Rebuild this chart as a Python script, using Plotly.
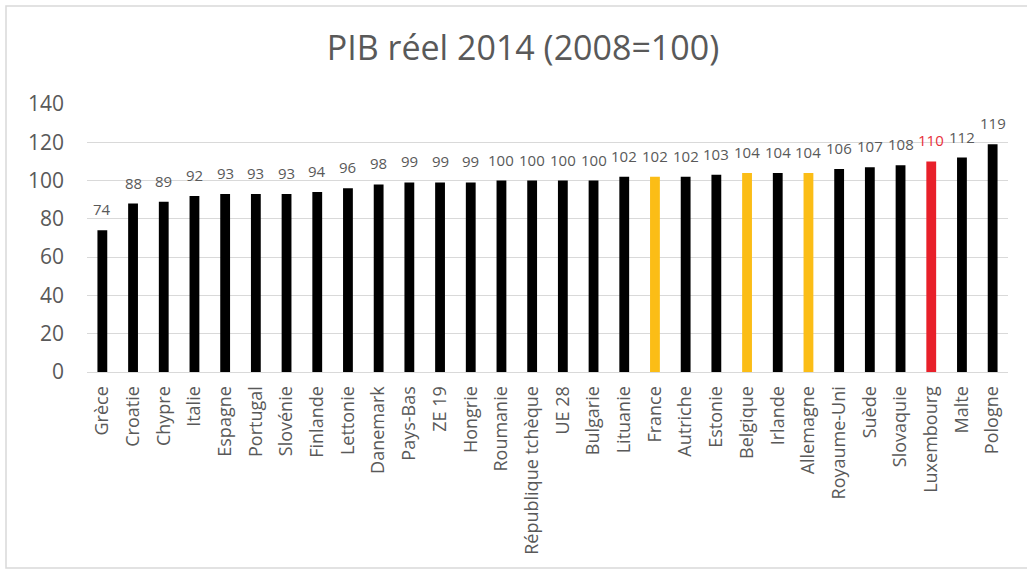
import plotly.graph_objects as go

countries = ["Grèce", "Croatie", "Chypre", "Italie", "Espagne", "Portugal", "Slovénie",
             "Finlande", "Lettonie", "Danemark", "Pays-Bas", "ZE 19", "Hongrie", "Roumanie",
             "République tchèque", "UE 28", "Bulgarie", "Lituanie", "France", "Autriche",
             "Estonie", "Belgique", "Irlande", "Allemagne", "Royaume-Uni", "Suède",
             "Slovaquie", "Luxembourg", "Malte", "Pologne"]
values = [74, 88, 89, 92, 93, 93, 93, 94, 96, 98, 99, 99, 99, 100, 100, 100, 100, 102,
          102, 102, 103, 104, 104, 104, 106, 107, 108, 110, 112, 119]
yellow_set = ["France", "Belgique", "Allemagne"]
red_set = ["Luxembourg"]
yticks = [0, 20, 40, 60, 80, 100, 120, 140]

bar_colors = []
label_colors = []
for c in countries:
    if c in red_set:
        bar_colors.append("#E8202A")
        label_colors.append("#E8303A")
    elif c in yellow_set:
        bar_colors.append("#FBBD16")
        label_colors.append("#595959")
    else:
        bar_colors.append("#000000")
        label_colors.append("#595959")

W, H = 1027, 569
ml, mr, mt, mb = 87, 19, 104, 197
pw, ph = W - ml - mr, H - mt - mb

fig = go.Figure(go.Bar(
    x=countries, y=values, marker_color=bar_colors, marker_line_width=0,
    width=0.32,
))

annotations = []
for c, v, col in zip(countries, values, label_colors):
    annotations.append(dict(x=c, y=v, xref="x", yref="y", text=str(v), showarrow=False,
                            yanchor="bottom", yshift=9,
                            font=dict(family="Open Sans", size=15, color=col)))

fig.update_layout(
    width=W, height=H,
    margin=dict(l=ml, r=mr, t=mt, b=mb, pad=0),
    paper_bgcolor="white", plot_bgcolor="white",
    showlegend=False,
    annotations=annotations,
    title=dict(text="PIB réel 2014 (2008=100)", x=(523 - ml) / pw, xref="paper",
               xanchor="center", y=1 - 48 / H, yanchor="middle",
               font=dict(family="Open Sans", size=34, color="#595959")),
    xaxis=dict(tickangle=-90, tickfont=dict(family="Open Sans", size=18, color="#595959"),
               showgrid=False, showline=True, linecolor="#D9D9D9", linewidth=1,
               ticks="", ticklabelstandoff=6),
    yaxis=dict(range=[0, 140], tickvals=yticks, showgrid=True, gridcolor="#D9D9D9",
               gridwidth=1, zeroline=False, showline=False, ticks="",
               tickfont=dict(family="Open Sans", size=21, color="#595959"),
               ticklabelstandoff=22),
    shapes=[dict(type="rect", xref="paper", yref="paper",
                 x0=(6 - ml) / pw, x1=(1080 - ml) / pw,
                 y0=-(568 - (H - mb)) / ph, y1=1 + (mt - 6) / ph,
                 line=dict(color="#D9D9D9", width=1.5), fillcolor="rgba(0,0,0,0)")],
)

fig.write_html("out.html")
